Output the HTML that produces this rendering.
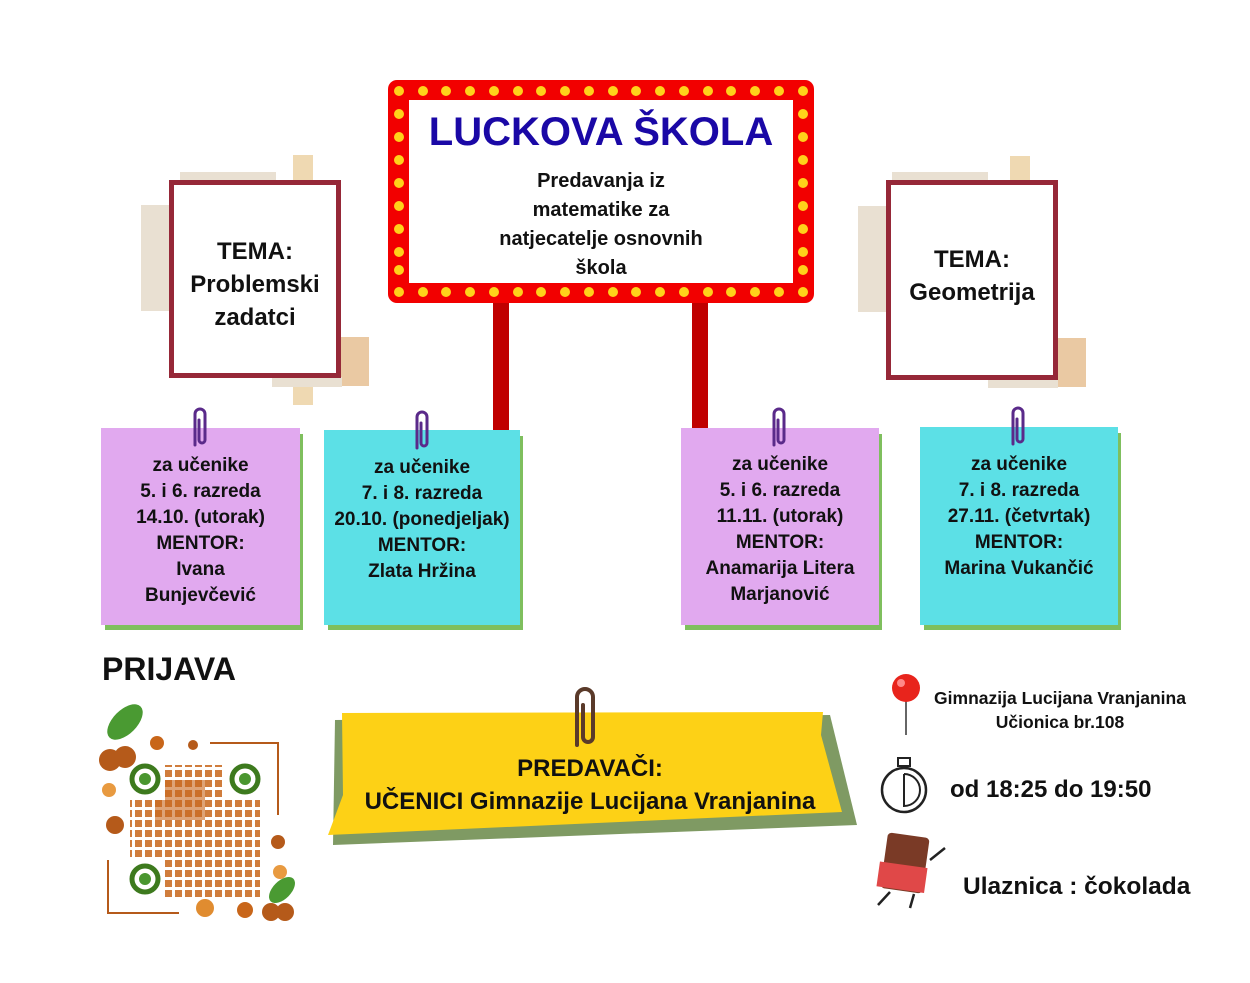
<!DOCTYPE html>
<html><head><meta charset="utf-8"><style>
body{margin:0;width:1250px;height:983px;background:#fff;position:relative;overflow:hidden;font-family:"Liberation Sans",sans-serif;font-weight:bold;color:#111}
.a{position:absolute}
.c{text-align:center}
.note{position:absolute;font-size:19px;line-height:26px;text-align:center;padding-top:25px;box-sizing:border-box;white-space:nowrap}
.sh{position:absolute;background:#7fbf5e}
</style></head><body>
<!-- marquee -->
<div class="a" style="left:493px;top:300px;width:16px;height:130px;background:#c00000"></div>
<div class="a" style="left:692px;top:300px;width:16px;height:130px;background:#c00000"></div>
<svg class="a" style="left:388px;top:80px" width="426" height="223">
<rect x="0" y="0" width="426" height="223" rx="9" fill="#f20000"/>
<rect x="21" y="20" width="384" height="183" fill="#fff"/>
<g fill="#ffd21a">
<circle cx="11" cy="11" r="5"/><circle cx="35" cy="11" r="5"/><circle cx="58" cy="11" r="5"/><circle cx="82" cy="11" r="5"/><circle cx="106" cy="11" r="5"/><circle cx="130" cy="11" r="5"/><circle cx="153" cy="11" r="5"/><circle cx="177" cy="11" r="5"/><circle cx="201" cy="11" r="5"/><circle cx="225" cy="11" r="5"/><circle cx="248" cy="11" r="5"/><circle cx="272" cy="11" r="5"/><circle cx="296" cy="11" r="5"/><circle cx="320" cy="11" r="5"/><circle cx="343" cy="11" r="5"/><circle cx="367" cy="11" r="5"/><circle cx="391" cy="11" r="5"/><circle cx="415" cy="11" r="5"/>
<circle cx="11" cy="212" r="5"/><circle cx="35" cy="212" r="5"/><circle cx="58" cy="212" r="5"/><circle cx="82" cy="212" r="5"/><circle cx="106" cy="212" r="5"/><circle cx="130" cy="212" r="5"/><circle cx="153" cy="212" r="5"/><circle cx="177" cy="212" r="5"/><circle cx="201" cy="212" r="5"/><circle cx="225" cy="212" r="5"/><circle cx="248" cy="212" r="5"/><circle cx="272" cy="212" r="5"/><circle cx="296" cy="212" r="5"/><circle cx="320" cy="212" r="5"/><circle cx="343" cy="212" r="5"/><circle cx="367" cy="212" r="5"/><circle cx="391" cy="212" r="5"/><circle cx="415" cy="212" r="5"/>
<circle cx="11" cy="34" r="5"/><circle cx="11" cy="57" r="5"/><circle cx="11" cy="80" r="5"/><circle cx="11" cy="103" r="5"/><circle cx="11" cy="126" r="5"/><circle cx="11" cy="149" r="5"/><circle cx="11" cy="172" r="5"/><circle cx="11" cy="190" r="5"/>
<circle cx="415" cy="34" r="5"/><circle cx="415" cy="57" r="5"/><circle cx="415" cy="80" r="5"/><circle cx="415" cy="103" r="5"/><circle cx="415" cy="126" r="5"/><circle cx="415" cy="149" r="5"/><circle cx="415" cy="172" r="5"/><circle cx="415" cy="190" r="5"/>
</g></svg>
<div class="a c" style="left:409px;top:105px;width:384px;font-size:40px;color:#1a08a6;line-height:54px">LUCKOVA ŠKOLA</div>
<div class="a c" style="left:409px;top:167px;width:384px;font-size:20px;line-height:29px">Predavanja iz<br>matematike za<br>natjecatelje osnovnih<br>škola</div>

<!-- left tema -->
<div class="a" style="left:141px;top:205px;width:40px;height:106px;background:#e9e0d2"></div>
<div class="a" style="left:180px;top:172px;width:96px;height:10px;background:#e9e0d2"></div>
<div class="a" style="left:293px;top:155px;width:20px;height:26px;background:#efd9b2"></div>
<div class="a" style="left:338px;top:337px;width:31px;height:49px;background:#eac9a3"></div>
<div class="a" style="left:293px;top:377px;width:20px;height:28px;background:#efd9b2"></div>
<div class="a" style="left:272px;top:377px;width:70px;height:10px;background:#e9e0d2"></div>
<div class="a c" style="left:169px;top:180px;width:172px;height:198px;border:5px solid #962838;box-sizing:border-box;background:#fff;font-size:24px;line-height:33px;padding-top:50px">TEMA:<br>Problemski<br>zadatci</div>
<!-- right tema -->
<div class="a" style="left:858px;top:206px;width:30px;height:106px;background:#e9e0d2"></div>
<div class="a" style="left:892px;top:172px;width:96px;height:10px;background:#e9e0d2"></div>
<div class="a" style="left:1010px;top:156px;width:20px;height:26px;background:#efd9b2"></div>
<div class="a" style="left:1055px;top:338px;width:31px;height:49px;background:#eac9a3"></div>
<div class="a" style="left:988px;top:378px;width:70px;height:10px;background:#e9e0d2"></div>
<div class="a c" style="left:886px;top:180px;width:172px;height:200px;border:5px solid #962838;box-sizing:border-box;background:#fff;font-size:24px;line-height:33px;padding-top:58px">TEMA:<br>Geometrija</div>

<!-- notes -->
<div class="sh" style="left:105px;top:434px;width:198px;height:196px"></div>
<div class="note" style="left:101px;top:428px;width:199px;height:197px;background:#e1a9ef">za učenike<br>5. i 6. razreda<br>14.10. (utorak)<br>MENTOR:<br>Ivana<br>Bunjevčević</div>
<div class="sh" style="left:328px;top:436px;width:195px;height:194px"></div>
<div class="note" style="left:324px;top:430px;width:196px;height:195px;background:#5ce0e6">za učenike<br>7. i 8. razreda<br>20.10. (ponedjeljak)<br>MENTOR:<br>Zlata Hržina</div>
<div class="sh" style="left:685px;top:434px;width:197px;height:196px"></div>
<div class="note" style="left:681px;top:428px;width:198px;height:197px;background:#e1a9ef;padding-top:24px">za učenike<br>5. i 6. razreda<br>11.11. (utorak)<br>MENTOR:<br>Anamarija Litera<br>Marjanović</div>
<div class="sh" style="left:924px;top:433px;width:197px;height:197px"></div>
<div class="note" style="left:920px;top:427px;width:198px;height:198px;background:#5ce0e6;padding-top:25px">za učenike<br>7. i 8. razreda<br>27.11. (četvrtak)<br>MENTOR:<br>Marina Vukančić</div>
<!-- clips -->
<svg class="a" style="left:0;top:0" width="1250" height="983" fill="none" stroke-linecap="round">
<g stroke="#5a2a8a" stroke-width="3">
<path d="M195 445 V414 a5 5 0 0 1 10 0 V440 a3 3 0 0 1 -6 0 V420"/>
<path d="M417 448 V417 a5 5 0 0 1 10 0 V443 a3 3 0 0 1 -6 0 V423"/>
<path d="M774 445 V414 a5 5 0 0 1 10 0 V440 a3 3 0 0 1 -6 0 V420"/>
<path d="M1013 444 V413 a5 5 0 0 1 10 0 V439 a3 3 0 0 1 -6 0 V419"/>
</g>
</svg>

<!-- PRIJAVA -->
<div class="a" style="left:102px;top:649px;font-size:32px;line-height:40px">PRIJAVA</div>
<svg class="a" style="left:85px;top:700px" width="230" height="230">
<defs><pattern id="q" width="10" height="10" patternUnits="userSpaceOnUse"><rect width="7" height="7" fill="#c8661a"/></pattern></defs>
<path d="M125 43 H193 V115 M94 213 H23 V160" stroke="#b55a1a" stroke-width="2" fill="none"/>
<rect x="45" y="65" width="130" height="135" fill="url(#q)" opacity=".85"/>
<rect x="70" y="80" width="50" height="40" fill="#c8661a" opacity=".6"/>
<g fill="#fff"><rect x="40" y="60" width="40" height="40"/><rect x="140" y="60" width="40" height="40"/><rect x="40" y="160" width="40" height="40"/></g>
<g stroke="#3d7a1e" stroke-width="5" fill="none"><circle cx="60" cy="79" r="13"/><circle cx="160" cy="79" r="13"/><circle cx="60" cy="179" r="13"/></g>
<g fill="#4a9630"><circle cx="60" cy="79" r="6"/><circle cx="160" cy="79" r="6"/><circle cx="60" cy="179" r="6"/></g>
<ellipse cx="40" cy="22" rx="22" ry="12" fill="#4a9a32" transform="rotate(-45 40 22)"/>
<circle cx="25" cy="60" r="11" fill="#b55a1a"/><circle cx="40" cy="57" r="11" fill="#b55a1a"/>
<ellipse cx="197" cy="190" rx="16" ry="9" fill="#4a9a32" transform="rotate(-45 197 190)"/>
<circle cx="186" cy="212" r="9" fill="#b55a1a"/><circle cx="200" cy="212" r="9" fill="#b55a1a"/>
<circle cx="30" cy="125" r="9" fill="#b55a1a"/><circle cx="193" cy="142" r="7" fill="#b55a1a"/>
<circle cx="72" cy="43" r="7" fill="#c8661a"/><circle cx="108" cy="45" r="5" fill="#b55a1a"/>
<circle cx="120" cy="208" r="9" fill="#e08c30"/><circle cx="160" cy="210" r="8" fill="#c8661a"/>
<circle cx="24" cy="90" r="7" fill="#e89a40"/><circle cx="195" cy="172" r="7" fill="#e89a40"/>
</svg>

<!-- banner -->
<svg class="a" style="left:325px;top:685px" width="540" height="170">
<path d="M10 35 L505 30 L532 140 L8 160 Z" fill="#7f9a63"/>
<path d="M17 28 L498 27 L496 50 L517 127 L3 150 L18 110 Z" fill="#fdd116"/>
<path d="M252 60 V12 a8 8 0 0 1 16 0 V52 a5 5 0 0 1 -10 0 V20" stroke="#5a3a2a" stroke-width="4" fill="none" stroke-linecap="round"/>
</svg>
<div class="a c" style="left:330px;top:752px;width:520px;font-size:24px;line-height:33px;white-space:nowrap">PREDAVAČI:<br>UČENICI Gimnazije Lucijana Vranjanina</div>

<!-- right info -->
<svg class="a" style="left:870px;top:670px" width="90" height="250">
<line x1="36" y1="20" x2="36" y2="65" stroke="#666" stroke-width="2"/>
<circle cx="36" cy="18" r="14" fill="#e8241c"/><circle cx="31" cy="13" r="4" fill="#f88"/>
<circle cx="34" cy="120" r="22" fill="none" stroke="#222" stroke-width="2.5"/>
<rect x="28" y="88" width="12" height="8" fill="none" stroke="#222" stroke-width="2"/>
<path d="M34 104 V136 A16 16 0 0 0 34 104" fill="none" stroke="#222" stroke-width="2"/>
<rect x="14" y="165" width="42" height="56" rx="4" fill="#7a3a26" transform="rotate(8 35 193)"/>
<rect x="10" y="195" width="48" height="25" fill="#e04848" transform="rotate(8 35 193)"/>
<path d="M20 222 L8 235 M44 224 L40 238" stroke="#222" stroke-width="2.5"/>
<path d="M60 190 L75 178" stroke="#222" stroke-width="2.5"/>
</svg>
<div class="a c" style="left:920px;top:686px;width:280px;font-size:17.5px;line-height:24px;white-space:nowrap">Gimnazija Lucijana Vranjanina<br>Učionica br.108</div>
<div class="a" style="left:950px;top:775px;font-size:24px;line-height:30px">od 18:25 do 19:50</div>
<div class="a" style="left:963px;top:872px;font-size:24.5px;line-height:30px">Ulaznica : čokolada</div>
</body></html>
